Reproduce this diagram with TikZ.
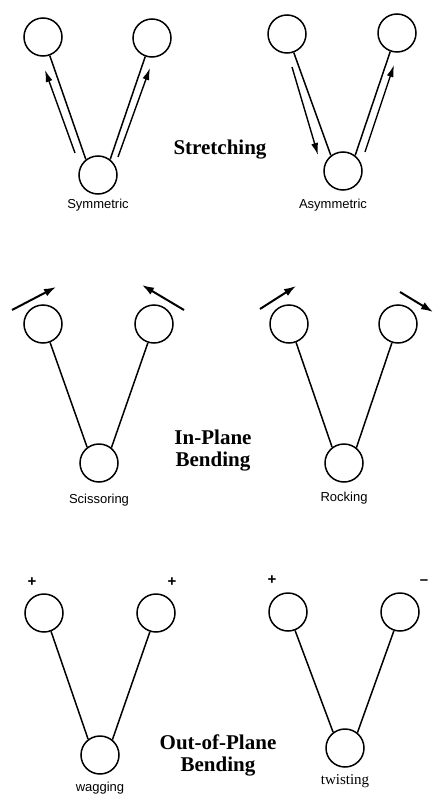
\documentclass[tikz,border=0pt]{standalone}
\usepackage{fontspec}
\setmainfont{Liberation Serif}
\setsansfont{Liberation Sans}
\usetikzlibrary{arrows.meta}
\begin{document}
\begin{tikzpicture}[x=1pt,y=-1pt,
  atom/.style={circle,draw,line width=1.5pt,minimum size=38pt,inner sep=0pt},
  bond/.style={line width=1.5pt},
  stretcharrow/.style={line width=1.4pt,-{Latex[length=12pt,width=7pt]}},
  bendarrow/.style={line width=2pt,-{Latex[length=12pt,width=8pt]}},
  title/.style={font=\fontsize{21}{22}\selectfont\bfseries,align=center},
  lab/.style={font=\sffamily\fontsize{13}{15}\selectfont},
  slab/.style={font=\fontsize{15}{17}\selectfont},
  sign/.style={font=\sffamily\bfseries\fontsize{15}{17}\selectfont}]
\useasboundingbox (0,0) rectangle (434,797);

% ---------- Stretching ----------
\node[atom] (s1a) at (43,37) {};
\node[atom] (s1b) at (152,38) {};
\node[atom] (s1c) at (98,175) {};
\draw[bond] (s1a.-70) -- (s1c.128);
\draw[bond] (s1b.-110) -- (s1c.52);
\coordinate (s1la) at (75,153);
\coordinate (s1lb) at (45,70);
\coordinate (s1ra) at (118,157);
\coordinate (s1rb) at (150,68);
\draw[stretcharrow] (s1la) -- (s1lb);
\draw[stretcharrow] (s1ra) -- (s1rb);
\node[lab] (sym) at (98,205) {Symmetric};

\node[atom] (s2a) at (287,34) {};
\node[atom] (s2b) at (397,33) {};
\node[atom] (s2c) at (343,171) {};
\draw[bond] (s2a.-70) -- (s2c.128);
\draw[bond] (s2b.-110) -- (s2c.52);
\coordinate (s2la) at (292,67);
\coordinate (s2lb) at (318,155);
\coordinate (s2ra) at (365,152);
\coordinate (s2rb) at (394,65);
\draw[stretcharrow] (s2la) -- (s2lb);
\draw[stretcharrow] (s2ra) -- (s2rb);
\node[lab] (asym) at (333,205) {Asymmetric};

\node[title] (stretch) at (220,150) {Stretching};

% ---------- In-Plane Bending ----------
\node[atom] (b1a) at (43,324) {};
\node[atom] (b1b) at (154,324) {};
\node[atom] (b1c) at (99,463) {};
\draw[bond] (b1a.-69) -- (b1c.127);
\draw[bond] (b1b.-108) -- (b1c.51);
\coordinate (b1la) at (12,310);
\coordinate (b1lb) at (56,287);
\coordinate (b1ra) at (184,310);
\coordinate (b1rb) at (142,285);
\draw[bendarrow] (b1la) -- (b1lb);
\draw[bendarrow] (b1ra) -- (b1rb);
\node[lab] (sciss) at (99,500) {Scissoring};

\node[atom] (b2a) at (289,324) {};
\node[atom] (b2b) at (398,324) {};
\node[atom] (b2c) at (344,463) {};
\draw[bond] (b2a.-69) -- (b2c.127);
\draw[bond] (b2b.-108) -- (b2c.51);
\coordinate (b2la) at (260,309);
\coordinate (b2lb) at (296,286);
\coordinate (b2ra) at (400,292);
\coordinate (b2rb) at (433,312);
\draw[bendarrow] (b2la) -- (b2lb);
\draw[bendarrow] (b2ra) -- (b2rb);
\node[lab] (rock) at (344,498) {Rocking};

\node[title] (inplane) at (213,451) {In-Plane\\Bending};

% ---------- Out-of-Plane Bending ----------
\node[atom] (o1a) at (44,613) {};
\node[atom] (o1b) at (156,613) {};
\node[atom] (o1c) at (100,755) {};
\draw[bond] (o1a.-69) -- (o1c.127);
\draw[bond] (o1b.-108) -- (o1c.51);
\node[sign] (o1p) at (32,582) {+};
\node[sign] (o1q) at (172,582) {+};
\node[lab] (wag) at (100,788) {wagging};

\node[atom] (o2a) at (288,612) {};
\node[atom] (o2b) at (400,612) {};
\node[atom] (o2c) at (345,748) {};
\draw[bond] (o2a.-69) -- (o2c.127);
\draw[bond] (o2b.-108) -- (o2c.51);
\node[sign] (o2p) at (272,580) {+};
\node[sign] (o2q) at (424,582) {–};
\node[slab] (twist) at (345,781) {twisting};

\node[title] (outplane) at (218,755) {Out-of-Plane\\Bending};
\end{tikzpicture}
\end{document}
